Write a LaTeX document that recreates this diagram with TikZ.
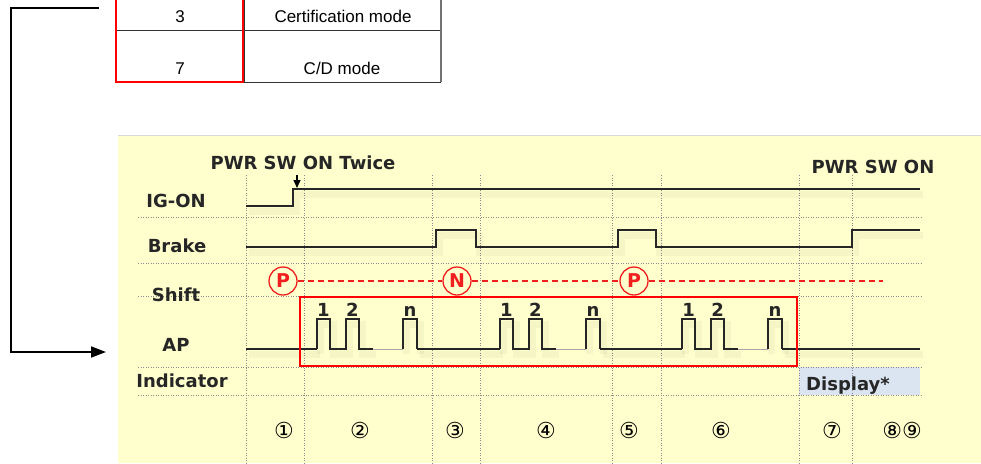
\documentclass[tikz,border=0pt]{standalone}
\usepackage{fontspec}
\setmainfont{DejaVu Sans}
\newfontfamily\tablefont{Liberation Sans}
\usetikzlibrary{arrows.meta}

\definecolor{panelyellow}{RGB}{255,255,206}
\definecolor{displayblue}{RGB}{219,229,241}
\definecolor{markred}{RGB}{240,30,30}

\tikzset{
  signal/.style={line width=1.6pt, black!85,
    preaction={draw=black, draw opacity=0.04, line width=7pt, transform canvas={shift={(3pt,-5pt)}}}},
  faded/.style={line width=1pt, black!35},
  gridline/.style={black!45, dash pattern=on 1pt off 1.5pt, line width=0.8pt},
  rowlabel/.style={font=\labelsize\bfseries, text=black!85, inner sep=0pt},
  pulselabel/.style={font=\labelsize\bfseries, text=black!85, inner sep=0pt, anchor=base},
  gearmark/.style={circle, draw=markred, line width=1.3pt, text=markred, minimum size=28pt, inner sep=0pt, font=\fontsize{19}{20}\selectfont\bfseries},
  gearline/.style={markred, dash pattern=on 6pt off 4pt, line width=1.2pt},
  stepmark/.style={font=\fontsize{22}{24}\selectfont, inner sep=0pt},
  celltext/.style={font=\tablefont\fontsize{17}{19}\selectfont, inner sep=0pt, anchor=base},
  link/.style={line width=1.8pt, -{Triangle[length=15pt, width=11pt]}},
}

\begin{document}
\begin{tikzpicture}[x=1pt, y=-1pt]
\def\labelsize{\fontsize{18}{20}\selectfont}
\def\high{319}
\def\low{349}
\useasboundingbox (0,0) rectangle (981,463);

\begin{scope} % MODE TABLE
\draw[black!80, line width=1pt] (116,30) -- (441,30);
\draw[black!80, line width=1pt] (243,82) -- (441,82);
\draw[black!55, line width=1.2pt] (441,-2) -- (441,82);
\draw[black!80, line width=1pt] (244.5,-2) -- (244.5,82);
\draw[red, line width=1.2pt] (116,-2) -- (116,82) -- (243,82) -- (243,-2);

\node [celltext] (num3) at (180,22) {3};
\node [celltext] (certmode) at (343,22) {Certification mode};
\node [celltext] (num7) at (180,74) {7};
\node [celltext] (cdmode) at (342,74) {C/D mode};
\end{scope}

% link from the table down to the AP row
\coordinate (linkstart) at (99,8);
\coordinate (linkbend) at (11,8);
\coordinate (apentry) at (106,352);
\draw[link] (linkstart) -- (linkbend) |- (apentry);

\begin{scope} % TIMING PANEL
\fill[panelyellow] (118,135) rectangle (981,463);
\draw[black!15] (118,135) -- (981,135);
\fill[displayblue] (799,367) rectangle (920,395);

\foreach \gx in {246,304,432,480,612,661,799,852}
  \draw[gridline] (\gx,175) -- (\gx,463);
\foreach \gy in {217,263,296,367,395}
  \draw[gridline] (138,\gy) -- (922,\gy);

\node [rowlabel, anchor=base] (igon) at (176,207) {IG-ON};
\node [rowlabel, anchor=base] (brake) at (177,252) {Brake};
\node [rowlabel, anchor=base] (shift) at (176,301) {Shift};
\node [rowlabel, anchor=base] (ap) at (176,351) {AP};
\node [rowlabel, anchor=base] (indicator) at (182,387) {Indicator};
\node [rowlabel, anchor=base west] (display) at (806,390) {Display*};
\end{scope}

\begin{scope} % IG-ON ROW
\node [rowlabel, anchor=base] (twice) at (303,169) {PWR SW ON Twice};
\node [rowlabel, anchor=base] (swon) at (873,173) {PWR SW ON};
\coordinate (swtop) at (297,175);
\coordinate (swbot) at (297,188);
\draw[line width=1.1pt, -{Triangle[length=8pt, width=7pt]}] (swtop) -- (swbot);
\draw[signal] (246,206) -- (293,206) -- (293,189) -- (920,189);
\end{scope}

\begin{scope} % BRAKE ROW
\draw[signal] (246,247) -- (436,247) -- (436,230) -- (476,230) -- (476,247)
  -- (618,247) -- (618,230) -- (656,230) -- (656,247)
  -- (852,247) -- (852,230) -- (920,230);
\end{scope}

\begin{scope} % SHIFT ROW
\node [gearmark] (park1) at (283,281) {P};
\node [gearmark] (neutral) at (457,281) {N};
\node [gearmark] (park2) at (634,281) {P};
\coordinate (shiftend) at (883,281);
\draw[gearline] (park1) -- (neutral);
\draw[gearline] (neutral) -- (park2);
\draw[gearline] (park2) -- (shiftend);
\end{scope}

\begin{scope} % AP ROW
\draw[signal] (246,\low) -- (317,\low);
\draw[signal] (417,\low) -- (500,\low);
\draw[signal] (600,\low) -- (682,\low);
\draw[signal] (782,\low) -- (920,\low);
\foreach \b in {317,500,682} {
  \draw[signal] (\b,\low) -- (\b,\high) -- ++(13,0) -- (\b+13,\low) -- ++(16,0)
    -- (\b+29,\high) -- ++(13,0) -- (\b+42,\low) -- ++(14,0);
  \draw[faded] (\b+56,\low) -- (\b+86,\low);
  \draw[signal] (\b+86,\low) -- (\b+86,\high) -- ++(14,0) -- (\b+100,\low);
  \node [pulselabel] (first\b) at (\b+6.5,316) {1};
  \node [pulselabel] (second\b) at (\b+35.5,316) {2};
  \node [pulselabel] (last\b) at (\b+93,316) {n};
}
\draw[red, line width=1.5pt] (300,297) rectangle (797,366);
\end{scope}

\begin{scope} % STEP NUMBERS
\foreach \sx/\sn/\st in {284/1/①, 360/2/②, 455/3/③, 546/4/④, 629/5/⑤, 721/6/⑥, 832/7/⑦, 902/8/⑧⑨}
  \node [stepmark] (step\sn) at (\sx,430) {\st};
\end{scope}
\end{tikzpicture}
\end{document}
